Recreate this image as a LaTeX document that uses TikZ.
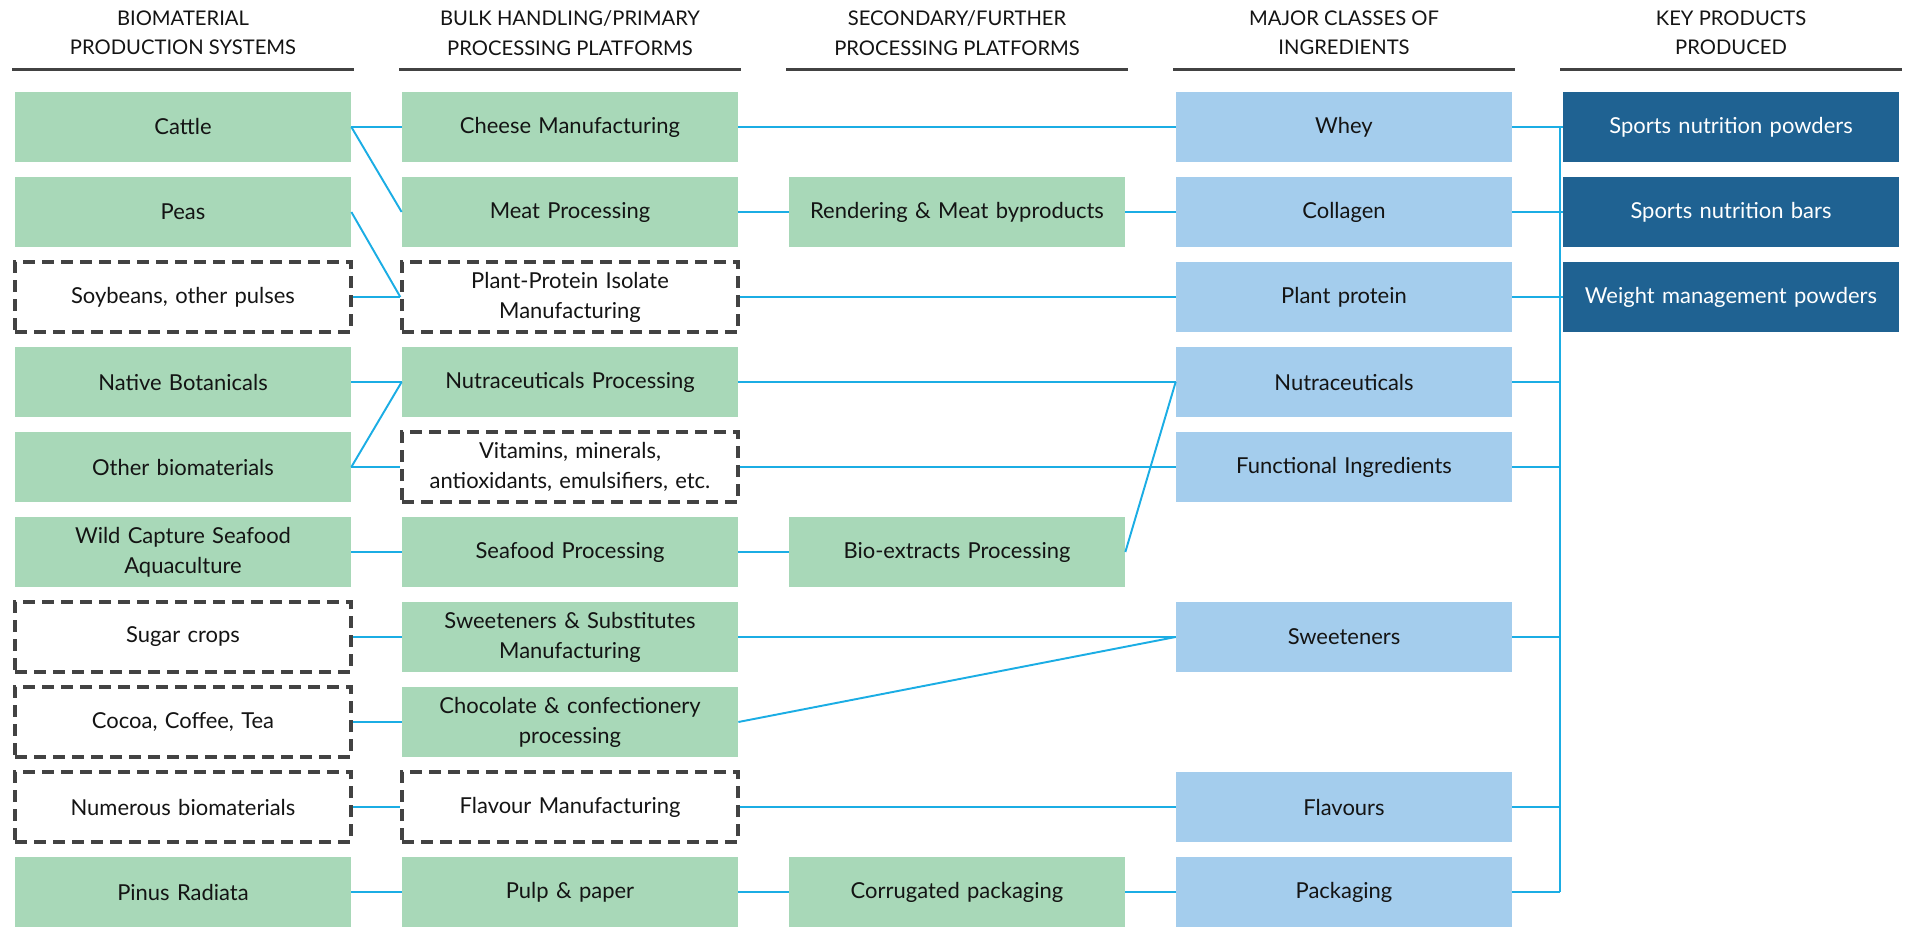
\documentclass[tikz,border=0pt]{standalone}
\usepackage{fontspec}
\setmainfont{Lato}
\usetikzlibrary{positioning}
\usepackage{xcolor}
\definecolor{srcgreen}{RGB}{168,216,184}
\definecolor{ingblue}{RGB}{164,205,237}
\definecolor{prodblue}{RGB}{31,98,146}
\definecolor{linkcyan}{RGB}{27,173,228}
\definecolor{rulegray}{RGB}{66,66,66}
\definecolor{textdark}{RGB}{20,20,20}
\newcommand{\boxfont}{\fontsize{12.5}{17}\selectfont}
\newcommand{\headfont}{\fontsize{11.5}{16.8}\selectfont}
\tikzset{
  box/.style    = {minimum width=6.72cm, minimum height=1.4cm, text width=6.5cm,
                   align=center, inner sep=0pt, font=\boxfont, text=textdark},
  gbox/.style   = {box, fill=srcgreen},
  dbox/.style   = {box, fill=white, draw=rulegray, line width=1.9pt,
                   dash pattern=on 0.24cm off 0.14cm},
  bbox/.style   = {box, fill=ingblue},
  pbox/.style   = {box, fill=prodblue, text=white},
  head/.style   = {align=center, font=\headfont, text=textdark},
  hrule/.style  = {draw=rulegray, line width=1.7pt},
  link/.style   = {draw=linkcyan, line width=1.1pt},
}

\begin{document}
\begin{tikzpicture}
  \useasboundingbox (0,0) rectangle (38.16,-18.54);

  % column headings
  \node[head] (h1) at (3.66,-0.66)  {BIOMATERIAL\\PRODUCTION SYSTEMS};
  \node[head] (h2) at (11.40,-0.66) {BULK HANDLING/PRIMARY\\PROCESSING PLATFORMS};
  \node[head] (h3) at (19.14,-0.66) {SECONDARY/FURTHER\\PROCESSING PLATFORMS};
  \node[head] (h4) at (26.88,-0.66) {MAJOR CLASSES OF\\INGREDIENTS};
  \node[head] (h5) at (34.62,-0.66) {KEY PRODUCTS\\PRODUCED};
  \foreach \cx in {3.66,11.40,19.14,26.88,34.62}
    \draw[hrule] (\cx-3.42,-1.39) -- (\cx+3.42,-1.39);

  % biomaterial production systems
  \node[gbox] (cattle)   at (3.66,-2.54)  {Cattle};
  \node[gbox] (peas)     at (3.66,-4.24)  {Peas};
  \node[dbox] (soy)      at (3.66,-5.94)  {Soybeans, other pulses};
  \node[gbox] (botan)    at (3.66,-7.64)  {Native Botanicals};
  \node[gbox] (otherbio) at (3.66,-9.34)  {Other biomaterials};
  \node[gbox] (wild)     at (3.66,-11.04) {Wild Capture Seafood\\Aquaculture};
  \node[dbox] (sugar)    at (3.66,-12.74) {Sugar crops};
  \node[dbox] (cocoa)    at (3.66,-14.44) {Cocoa, Coffee, Tea};
  \node[dbox] (numerous) at (3.66,-16.14) {Numerous biomaterials};
  \node[gbox] (pinus)    at (3.66,-17.84) {Pinus Radiata};

  % primary processing
  \node[gbox] (cheese)    at (11.40,-2.54)  {Cheese Manufacturing};
  \node[gbox] (meat)      at (11.40,-4.24)  {Meat Processing};
  \node[dbox] (ppi)       at (11.40,-5.94)  {Plant-Protein Isolate\\Manufacturing};
  \node[gbox] (nutraproc) at (11.40,-7.64)  {Nutraceuticals Processing};
  \node[dbox] (vitamins)  at (11.40,-9.34)  {Vitamins, minerals,\\antioxidants, emulsifiers, etc.};
  \node[gbox] (seaproc)   at (11.40,-11.04) {Seafood Processing};
  \node[gbox] (sweetproc) at (11.40,-12.74) {Sweeteners \& Substitutes\\Manufacturing};
  \node[gbox] (choc)      at (11.40,-14.44) {Chocolate \& confectionery\\processing};
  \node[dbox] (flavproc)  at (11.40,-16.14) {Flavour Manufacturing};
  \node[gbox] (pulp)      at (11.40,-17.84) {Pulp \& paper};

  % secondary processing
  \node[gbox] (render) at (19.14,-4.24)  {Rendering \& Meat byproducts};
  \node[gbox] (bioext) at (19.14,-11.04) {Bio-extracts Processing};
  \node[gbox] (corrug) at (19.14,-17.84) {Corrugated packaging};

  % ingredients
  \node[bbox] (whey)       at (26.88,-2.54)  {Whey};
  \node[bbox] (collagen)   at (26.88,-4.24)  {Collagen};
  \node[bbox] (plantprot)  at (26.88,-5.94)  {Plant protein};
  \node[bbox] (nutra)      at (26.88,-7.64)  {Nutraceuticals};
  \node[bbox] (functional) at (26.88,-9.34)  {Functional Ingredients};
  \node[bbox] (sweet)      at (26.88,-12.74) {Sweeteners};
  \node[bbox] (flavours)   at (26.88,-16.14) {Flavours};
  \node[bbox] (packaging)  at (26.88,-17.84) {Packaging};

  % products
  \node[pbox] (powders) at (34.62,-2.54) {Sports nutrition powders};
  \node[pbox] (bars)    at (34.62,-4.24) {Sports nutrition bars};
  \node[pbox] (weight)  at (34.62,-5.94) {Weight management powders};

  % links, sources to primary
  \draw[link] (cattle.east) -- (cheese.west);
  \draw[link] (cattle.east) -- (meat.west);
  \draw[link] (peas.east) -- (ppi.west);
  \draw[link] (soy.east) -- (ppi.west);
  \draw[link] (botan.east) -- (nutraproc.west);
  \draw[link] (otherbio.east) -- (nutraproc.west);
  \draw[link] (otherbio.east) -- (vitamins.west);
  \draw[link] (wild.east) -- (seaproc.west);
  \draw[link] (sugar.east) -- (sweetproc.west);
  \draw[link] (cocoa.east) -- (choc.west);
  \draw[link] (numerous.east) -- (flavproc.west);
  \draw[link] (pinus.east) -- (pulp.west);

  % links, processing to ingredients
  \draw[link] (cheese.east) -- (whey.west);
  \draw[link] (meat.east) -- (render.west);
  \draw[link] (render.east) -- (collagen.west);
  \draw[link] (ppi.east) -- (plantprot.west);
  \draw[link] (nutraproc.east) -- (nutra.west);
  \draw[link] (bioext.east) -- (nutra.west);
  \draw[link] (vitamins.east) -- (functional.west);
  \draw[link] (seaproc.east) -- (bioext.west);
  \draw[link] (sweetproc.east) -- (sweet.west);
  \draw[link] (choc.east) -- (sweet.west);
  \draw[link] (flavproc.east) -- (flavours.west);
  \draw[link] (pulp.east) -- (corrug.west);
  \draw[link] (corrug.east) -- (packaging.west);

  % bus to products
  \coordinate (bustop) at (31.2,-2.54);
  \coordinate (busbot) at (31.2,-17.84);
  \draw[link] (bustop) -- (busbot);
  \draw[link] (whey.east) -- (powders.west);
  \draw[link] (collagen.east) -- (bars.west);
  \draw[link] (plantprot.east) -- (weight.west);
  \foreach \n in {nutra,functional,sweet,flavours,packaging}
    \draw[link] (\n.east) -- (\n.east -| bustop);
\end{tikzpicture}
\end{document}
